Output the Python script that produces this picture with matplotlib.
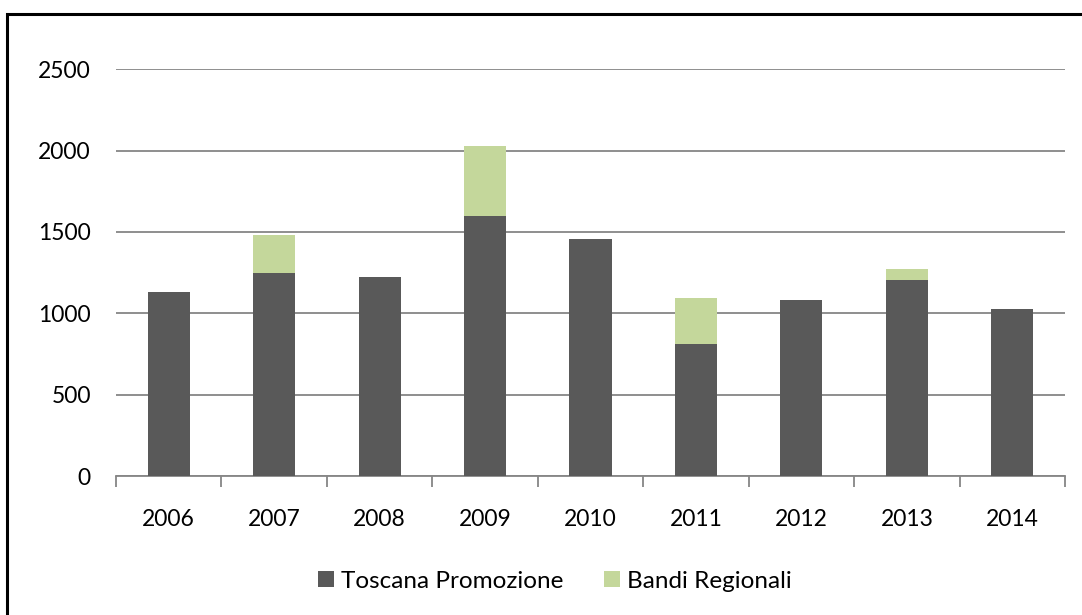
import matplotlib
matplotlib.use('Agg')
import matplotlib.pyplot as plt
from matplotlib.patches import Rectangle
import numpy as np

# Data
years = ['2006', '2007', '2008', '2009', '2010', '2011', '2012', '2013', '2014']
toscana = [1130, 1250, 1225, 1600, 1455, 810, 1080, 1205, 1025]
bandi = [0, 230, 0, 430, 0, 285, 0, 70, 0]
y_ticks = [0, 500, 1000, 1500, 2000, 2500]

dark = '#595959'
light = '#C4D79B'
grid_col = '#868686'

plt.rcParams['font.family'] = ['Lato', 'DejaVu Sans']

fig = plt.figure(figsize=(10.82, 6.15), dpi=100)
ax = fig.add_axes([0.1072, 0.226, 0.8771, 0.6613])

x = np.arange(len(years))
ax.bar(x, toscana, width=0.4, color=dark, label='Toscana Promozione', zorder=3)
ax.bar(x, bandi, width=0.4, bottom=toscana, color=light, label='Bandi Regionali', zorder=3)

ax.set_xlim(-0.5, len(years) - 0.5)
ax.set_ylim(0, 2500)
ax.set_yticks(y_ticks)
ax.yaxis.grid(True, color=grid_col, linewidth=1.3, zorder=0)
ax.tick_params(axis='y', length=0, labelsize=16.5, pad=18)

# category ticks sit between the bars
ax.set_xticks(x)
ax.set_xticklabels(years)
ax.set_xticks(np.arange(len(years) + 1) - 0.5, minor=True)
ax.tick_params(axis='x', which='major', length=0, labelsize=16.5, pad=24)
ax.tick_params(axis='x', which='minor', length=8, width=1.3, color=grid_col)

for s in ['top', 'right', 'left']:
    ax.spines[s].set_visible(False)
ax.spines['bottom'].set_color(grid_col)
ax.spines['bottom'].set_linewidth(1.3)

fig.legend(loc='center', bbox_to_anchor=(555 / 1082, 1 - 581 / 615), ncol=2, frameon=False,
           fontsize=17.5, handlelength=0.65, handleheight=0.65, handletextpad=0.3,
           columnspacing=1.65)

# outer chart border
fig.patches.append(Rectangle((7 / 1082, -0.1), 1.2, 1 - 14 / 615 + 0.1,
                             transform=fig.transFigure, fill=False,
                             edgecolor='black', linewidth=2.2))

fig.savefig('out.png', dpi=100)
